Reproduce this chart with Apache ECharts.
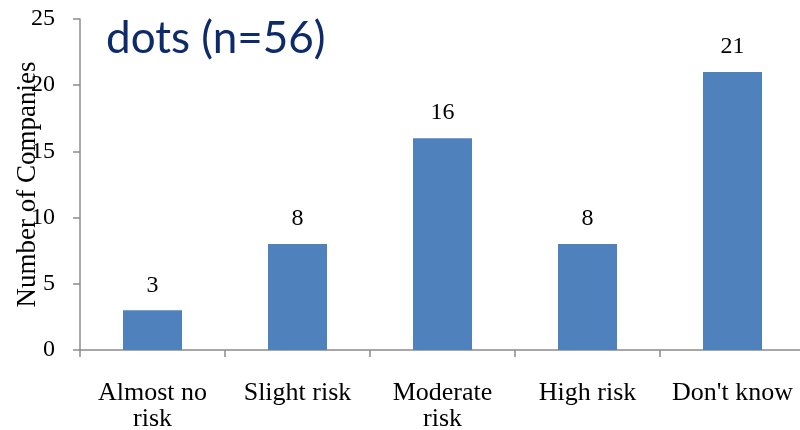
<!DOCTYPE html>
<html>
<head>
<meta charset="utf-8">
<script src="https://cdn.jsdelivr.net/npm/echarts@6/dist/echarts.min.js"></script>
<style>
  html, body { margin: 0; padding: 0; background: #ffffff; }
  #chart { width: 800px; height: 430px; }
</style>
</head>
<body>
<div id="chart"></div>
<script>
// Perceived risk categories and the number of companies in each
var categories = ['Almost no\nrisk', 'Slight risk', 'Moderate\nrisk', 'High risk', "Don't know"];
var companyCounts = [3, 8, 16, 8, 21];
var yTicks = [0, 5, 10, 15, 20, 25];
var titleText = 'dots (n=56)';
var yAxisName = 'Number of Companies';

var serif = '"Liberation Serif", "Times New Roman", serif';
var axisGrey = '#8c8c8c';

var chart = echarts.init(document.getElementById('chart'), null, { renderer: 'canvas' });

chart.setOption({
  animation: false,
  backgroundColor: '#ffffff',
  title: {
    text: titleText,
    left: 101,
    top: 12,
    textStyle: {
      fontFamily: 'Lato, "Open Sans", sans-serif',
      fontWeight: 'normal',
      fontSize: 44,
      color: '#0d2a6b'
    }
  },
  grid: { left: 80, right: -5, top: 19, bottom: 80, outerBoundsMode: 'none', containLabel: false },
  xAxis: {
    type: 'category',
    data: categories,
    axisLine: { show: true, lineStyle: { color: axisGrey, width: 1.5 } },
    axisTick: { show: true, alignWithLabel: false, length: 7, lineStyle: { color: axisGrey, width: 1.5 } },
    axisLabel: {
      fontFamily: serif,
      fontSize: 26,
      lineHeight: 26,
      color: '#000000',
      margin: 30,
      interval: 0
    }
  },
  yAxis: {
    type: 'value',
    min: yTicks[0],
    max: yTicks[yTicks.length - 1],
    interval: yTicks[1] - yTicks[0],
    name: yAxisName,
    nameLocation: 'middle',
    nameGap: 39,
    nameRotate: 90,
    nameMoveOverlap: false,
    nameTextStyle: { fontFamily: serif, fontSize: 27, color: '#000000' },
    axisLine: { show: true, lineStyle: { color: axisGrey, width: 1.5 } },
    axisTick: { show: true, length: 7, lineStyle: { color: axisGrey, width: 1.5 } },
    splitLine: { show: false },
    axisLabel: { fontFamily: serif, fontSize: 24, color: '#000000', margin: 25 }
  },
  series: [{
    type: 'bar',
    data: companyCounts,
    barWidth: 59,
    itemStyle: { color: '#4f81bd' },
    label: {
      show: true,
      position: 'top',
      distance: 13,
      fontFamily: serif,
      fontSize: 24,
      color: '#000000'
    }
  }]
});
</script>
</body>
</html>
